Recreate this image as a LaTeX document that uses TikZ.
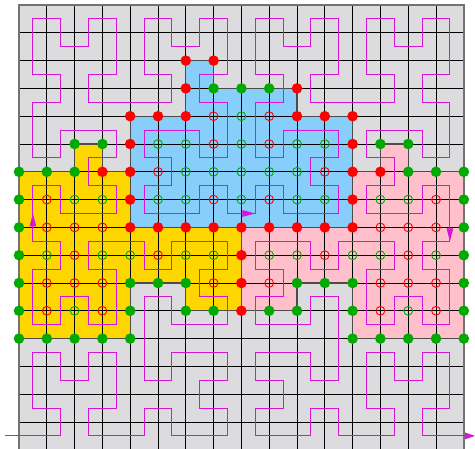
\documentclass[tikz,border=0pt]{standalone}
\usetikzlibrary{arrows.meta}
% ---------- Hilbert curve (order 4) computed with count registers ----------
\newcount\hD \newcount\hT \newcount\hX \newcount\hY \newcount\hS
\newcount\hRX \newcount\hRY \newcount\hA \newcount\hB
\def\hilbxy{%
  \hT=\hD \hX=0 \hY=0 \hS=1
  \loop
    \hA=\hT \divide\hA by 2
    \hB=\hA \divide\hB by 2 \multiply\hB by 2
    \hRX=\hA \advance\hRX by -\hB
    \hB=\hT \divide\hB by 2 \multiply\hB by 2
    \hA=\hT \advance\hA by -\hB
    \ifnum\hA=\hRX \hRY=0 \else \hRY=1 \fi
    \ifnum\hRY=0
      \ifnum\hRX=1
        \hX=\numexpr\hS-1-\hX\relax
        \hY=\numexpr\hS-1-\hY\relax
      \fi
      \hA=\hX \hX=\hY \hY=\hA
    \fi
    \advance\hX by \numexpr\hS*\hRX\relax
    \advance\hY by \numexpr\hS*\hRY\relax
    \divide\hT by 4
    \multiply\hS by 2
  \ifnum\hS<16 \repeat}
\def\hilbpath{}
\def\hstep{%
  \ifnum\hD<256
    \hilbxy
    \edef\hilbpath{\hilbpath -- (\the\hX.5,\the\hY.5)}%
    \advance\hD by 1
    \expandafter\hstep
  \fi}
\hD=0
\hstep
% ---------- colours ----------
\definecolor{bggray}{RGB}{220,219,222}
\definecolor{cblue}{RGB}{135,206,250}
\definecolor{cyellow}{RGB}{255,215,0}
\definecolor{cpink}{RGB}{255,192,203}
\definecolor{dgreen}{RGB}{0,170,0}
\definecolor{cred}{RGB}{255,0,0}
\definecolor{cmag}{RGB}{215,20,215}
\tikzset{
  gridline/.style={black, line width=0.9pt},
  framebox/.style={black!55, line width=1.6pt},
  regionedge/.style={black!70, line width=1.2pt, line join=miter},
  hilb/.style={cmag, line width=1.1pt},
  harrow/.style={-{Triangle[length=13pt,width=6.5pt]}},
  gf/.style={circle, fill=dgreen, inner sep=0pt, minimum size=10.6pt},
  rf/.style={circle, fill=cred, inner sep=0pt, minimum size=10.6pt},
  go/.style={circle, draw=dgreen, line width=0.9pt, inner sep=0pt, minimum size=8.8pt},
  ro/.style={circle, draw=cred, line width=0.9pt, inner sep=0pt, minimum size=8.8pt},
}
\begin{document}
\begin{tikzpicture}[x=27.8pt,y=27.8pt]
\useasboundingbox (-0.6835,0.029) rectangle (16.4029,16.18);
% background
\fill[bggray] (0,0) rectangle (16,16);
% regions
\fill[cblue] (4,8) -- (12,8) -- (12,12) -- (10,12) -- (10,13) -- (7,13) -- (7,14) -- (6,14) -- (6,12) -- (4,12) -- cycle;
\fill[cyellow] (0,4) -- (4,4) -- (4,6) -- (6,6) -- (6,5) -- (8,5) -- (8,8) -- (4,8) -- (4,10) -- (3,10) -- (3,11) -- (2,11) -- (2,10) -- (0,10) -- cycle;
\fill[cpink] (8,8) -- (12,8) -- (12,10) -- (13,10) -- (13,11) -- (14,11) -- (14,10) -- (16,10) -- (16,4) -- (12,4) -- (12,6) -- (10,6) -- (10,5) -- (8,5) -- cycle;
% grid
\foreach \k in {1,...,15} {
  \draw[gridline] (\k,0) -- (\k,16);
  \draw[gridline] (0,\k) -- (16,\k);
}
% region outlines
\draw[regionedge] (4,8) -- (12,8) -- (12,12) -- (10,12) -- (10,13) -- (7,13) -- (7,14) -- (6,14) -- (6,12) -- (4,12) -- cycle;
\draw[regionedge] (0,4) -- (4,4) -- (4,6) -- (6,6) -- (6,5) -- (8,5) -- (8,8) -- (4,8) -- (4,10) -- (3,10) -- (3,11) -- (2,11) -- (2,10) -- (0,10) -- cycle;
\draw[regionedge] (8,8) -- (12,8) -- (12,10) -- (13,10) -- (13,11) -- (14,11) -- (14,10) -- (16,10) -- (16,4) -- (12,4) -- (12,6) -- (10,6) -- (10,5) -- (8,5) -- cycle;
\draw[framebox] (0,0) rectangle (16,16);
% Hilbert curve
\coordinate (entry) at (-0.504,0.5);
\coordinate (exit) at (16.4029,0.5);
\coordinate (last) at (15.5,0.5);
\edef\hilbdraw{\noexpand\draw[hilb] (entry) \hilbpath;}
\hilbdraw
\draw[hilb,-{Triangle[length=10pt,width=6.5pt]}] (last) -- (exit);
\draw[hilb,harrow] (0.5,7.5) -- (0.5,8.5);
\draw[hilb,harrow] (7.5,8.5) -- (8.5,8.5);
\draw[hilb,harrow] (15.5,8.5) -- (15.5,7.5);
% dots
\foreach \i/\j in {7/13,8/13,9/13,
  2/11,3/11,13/11,14/11,
  0/10,1/10,2/10,14/10,15/10,16/10,
  0/9,16/9,0/8,16/8,0/7,16/7,
  0/6,4/6,5/6,6/6,10/6,11/6,12/6,16/6,
  0/5,4/5,6/5,7/5,9/5,10/5,12/5,16/5,
  0/4,1/4,2/4,3/4,4/4,12/4,13/4,14/4,15/4,16/4}
  \node[gf] (gf-\i-\j) at (\i,\j) {};
\foreach \i/\j in {6/14,7/14,6/13,10/13,
  4/12,5/12,6/12,10/12,11/12,12/12,
  4/11,12/11,
  3/10,4/10,12/10,13/10,
  4/9,12/9,
  4/8,5/8,6/8,7/8,8/8,9/8,10/8,11/8,12/8,
  8/7,8/6,8/5}
  \node[rf] (rf-\i-\j) at (\i,\j) {};
\foreach \i/\j in {8/12,
  5/11,6/11,8/11,10/11,11/11,
  6/10,7/10,8/10,9/10,10/10,
  2/9,3/9,5/9,6/9,8/9,10/9,11/9,13/9,14/9,
  1/7,3/7,4/7,6/7,7/7,9/7,10/7,12/7,13/7,15/7,
  2/5,14/5}
  \node[go] (go-\i-\j) at (\i,\j) {};
\foreach \i/\j in {7/12,9/12,
  7/11,9/11,
  5/10,11/10,
  1/9,7/9,9/9,15/9,
  1/8,2/8,3/8,13/8,14/8,15/8,
  2/7,5/7,11/7,14/7,
  1/6,2/6,3/6,7/6,9/6,13/6,14/6,15/6,
  1/5,3/5,13/5,15/5}
  \node[ro] (ro-\i-\j) at (\i,\j) {};
\end{tikzpicture}
\end{document}
